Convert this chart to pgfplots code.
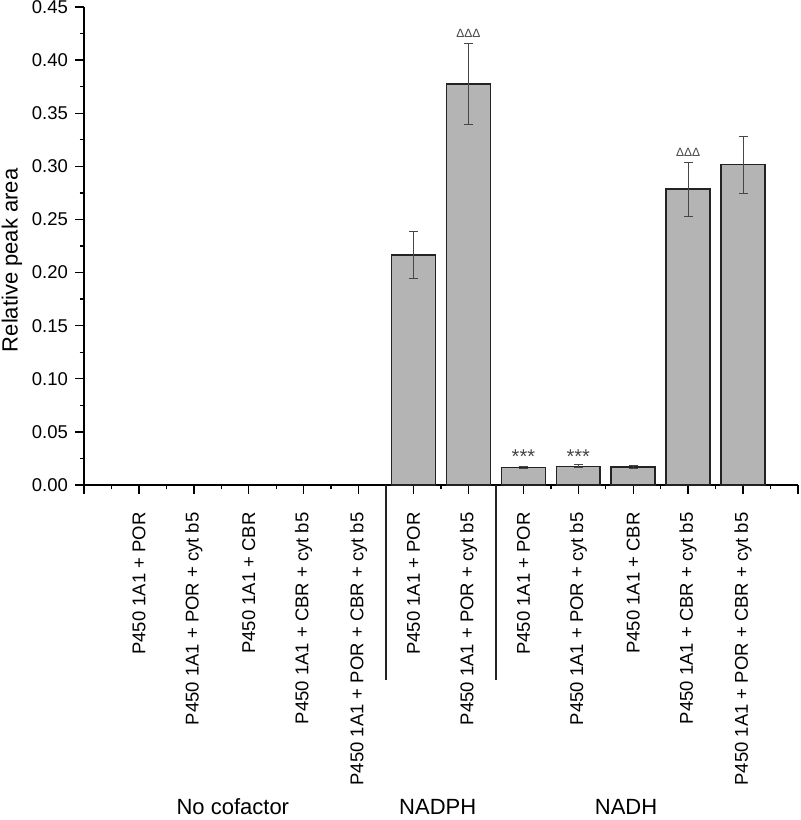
\documentclass[border=0pt]{standalone}
\usepackage{pgfplots}
\pgfplotsset{compat=1.18}
\usepackage{fontspec}
\setmainfont{Liberation Sans}
\definecolor{barfill}{RGB}{180,180,180}
\definecolor{baredge}{RGB}{35,35,35}
\definecolor{errc}{RGB}{70,70,70}
\begin{document}
\begin{tikzpicture}
\begin{axis}[
 name=ax,
 scale only axis, width=357pt, height=239pt,
 xmin=0, xmax=13, ymin=0, ymax=0.45,
 axis x line*=bottom, axis y line*=left,
 axis line style={line width=0.7pt, black, -},
 xtick={0,1,2,3,4,5,6,7,8,9,10,11,12,13},
 xticklabels={{},P450 1A1 + POR,P450 1A1 + POR + cyt b5,P450 1A1 + CBR,P450 1A1 + CBR + cyt b5,P450 1A1 + POR + CBR + cyt b5,P450 1A1 + POR,P450 1A1 + POR + cyt b5,P450 1A1 + POR,P450 1A1 + POR + cyt b5,P450 1A1 + CBR,P450 1A1 + CBR + cyt b5,P450 1A1 + POR + CBR + cyt b5,{}},
 minor x tick num=1,
 ytick={0,0.05,0.10,0.15,0.20,0.25,0.30,0.35,0.40,0.45},
 minor y tick num=1,
 tick align=outside,
 major tick length=4.5pt, minor tick length=2.25pt,
 every tick/.style={line width=0.7pt, black},
 xticklabel style={rotate=90, anchor=east, inner sep=0pt, font=\fontsize{9.25}{11}\selectfont},
 xticklabel shift=9pt,
 yticklabel style={/pgf/number format/fixed, /pgf/number format/fixed zerofill, /pgf/number format/precision=2, /pgf/number format/assume math mode=true, font=\fontsize{9.25}{11}\selectfont},
 scaled y ticks=false,
 ylabel={Relative peak area},
 every axis y label/.style={at={(axis description cs:-0.101,0.47)}, rotate=90, anchor=center, font=\fontsize{11}{13}\selectfont},
 clip=false,
]
\addplot[ybar, bar width=0.8, fill=barfill, draw=baredge, line width=0.8pt,
  error bars/.cd, y dir=both, y explicit,
  error bar style={line width=0.5pt, errc},
  error mark options={rotate=90, mark size=2.25pt, line width=0.5pt, errc}]
 table[x=x, y=y, y error=e] {
x y e
6 0.2166 0.0218
7 0.3776 0.0380
8 0.0163 0.0010
9 0.0176 0.0013
10 0.0170 0.0010
11 0.2784 0.0255
12 0.3016 0.0268
};
\node[font=\fontsize{6}{6}\selectfont, text=errc] at (axis cs:7,0.4256) {ΔΔΔ};
\node[font=\fontsize{6}{6}\selectfont, text=errc] at (axis cs:11,0.313) {ΔΔΔ};
\node[font=\fontsize{10}{10}\selectfont, text=errc] at (axis cs:8,0.0265) {***};
\node[font=\fontsize{10}{10}\selectfont, text=errc] at (axis cs:9,0.0265) {***};
\draw[line width=0.7pt, baredge] (axis cs:5.5,0) -- ++(0pt,-97.5pt);
\draw[line width=0.7pt, baredge] (axis cs:7.5,0) -- ++(0pt,-97.5pt);
\node[anchor=base, font=\fontsize{11}{13}\selectfont] at ([yshift=-164.5pt]axis cs:2.71,0) {No cofactor};
\node[anchor=base, font=\fontsize{11}{13}\selectfont] at ([yshift=-164.5pt]axis cs:6.44,0) {NADPH};
\node[anchor=base, font=\fontsize{11}{13}\selectfont] at ([yshift=-164.5pt]axis cs:9.87,0) {NADH};
\end{axis}
\pgfresetboundingbox
\path ([shift={(-42pt,-167.5pt)}]ax.south west) rectangle ([shift={(1pt,3.5pt)}]ax.north east);
\end{tikzpicture}
\end{document}
